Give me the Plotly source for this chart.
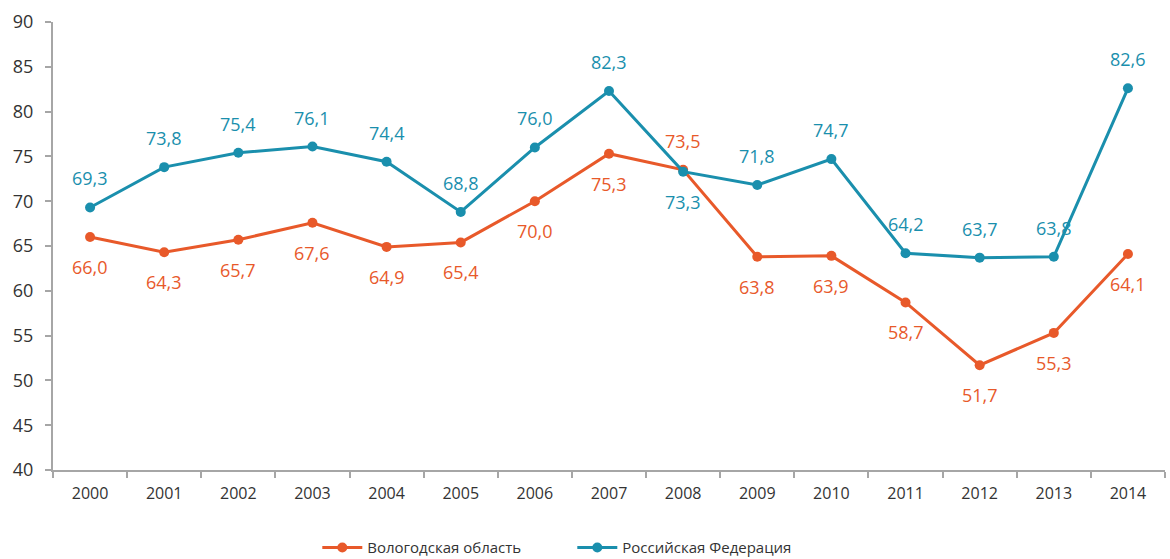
import plotly.graph_objects as go

years = ["2000","2001","2002","2003","2004","2005","2006","2007","2008","2009","2010","2011","2012","2013","2014"]
vologda = [66.0, 64.3, 65.7, 67.6, 64.9, 65.4, 70.0, 75.3, 73.5, 63.8, 63.9, 58.7, 51.7, 55.3, 64.1]
russia = [69.3, 73.8, 75.4, 76.1, 74.4, 68.8, 76.0, 82.3, 73.3, 71.8, 74.7, 64.2, 63.7, 63.8, 82.6]
vologda_label_above = [False]*8 + [True] + [False]*6
russia_label_above = [True]*8 + [False] + [True]*6

ORANGE = "#E8592A"
BLUE = "#1A8FAD"
FONT = "Open Sans"

fig = go.Figure()
fig.add_trace(go.Scatter(x=years, y=vologda, name="Вологодская область", mode="lines+markers",
                         line=dict(color=ORANGE, width=3), marker=dict(color=ORANGE, size=10)))
fig.add_trace(go.Scatter(x=years, y=russia, name="Российская Федерация", mode="lines+markers",
                         line=dict(color=BLUE, width=3), marker=dict(color=BLUE, size=10)))

annotations = []
for series, above, color in [(vologda, vologda_label_above, ORANGE), (russia, russia_label_above, BLUE)]:
    for i, (v, a) in enumerate(zip(series, above)):
        annotations.append(dict(x=i, y=v, xref="x", yref="y", text=f"{v:.1f}".replace(".", ","),
                                showarrow=False, yshift=29 if a else -30,
                                font=dict(color=color, size=18, family=FONT)))

fig.update_layout(
    width=1170, height=559,
    margin=dict(l=53, r=5, t=22, b=89, autoexpand=False),
    plot_bgcolor="white", paper_bgcolor="white",
    font=dict(family=FONT, color="#333333"),
    annotations=annotations,
    showlegend=True,
    legend=dict(orientation="h", x=0.467, xanchor="center", yref="container", y=0.02, yanchor="middle",
                font=dict(size=15, color="#333333"), entrywidth=200, entrywidthmode="pixels",
                itemwidth=40, tracegroupgap=0),
    xaxis=dict(type="category", range=[-0.5, 14.5], tickson="boundaries", ticks="outside",
               ticklen=6, tickwidth=2, tickangle=0, automargin=False, ticklabelstandoff=8,
               tickcolor="#A6A6A6", showline=True, linecolor="#A6A6A6", linewidth=2,
               showgrid=False, tickfont=dict(size=16, color="#333333"), zeroline=False),
    yaxis=dict(range=[40, 90], dtick=5, ticks="outside", ticklen=6, tickwidth=2, tickcolor="#A6A6A6",
               showline=True, linecolor="#A6A6A6", linewidth=2, showgrid=False, zeroline=False,
               automargin=False, ticklabelstandoff=8,
               tickfont=dict(size=18, color="#333333")),
)
fig.write_html("out.html", config={"displayModeBar": False},
               post_script="document.body.style.margin='0';document.body.style.overflow='hidden';")
